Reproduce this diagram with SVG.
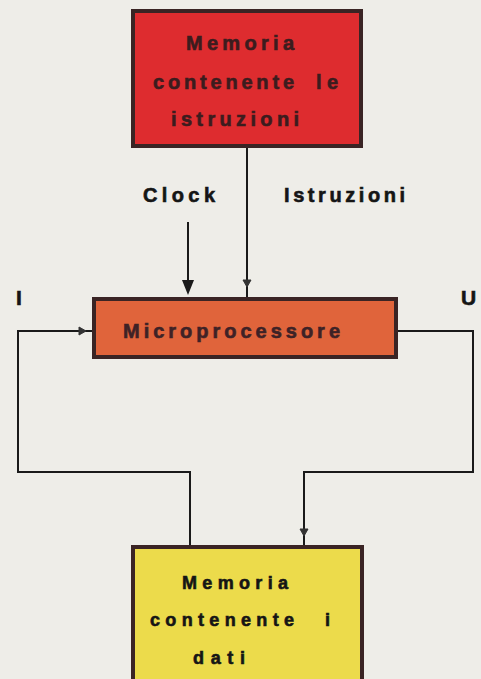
<svg xmlns="http://www.w3.org/2000/svg" width="481" height="679" viewBox="0 0 481 679">
<defs>
<style>
.t{font-family:"Liberation Sans",Arial,sans-serif;font-weight:bold;font-size:20px;fill:#151515;stroke:#151515;stroke-width:0.6}
.r{fill:#3c1c1e;stroke:#3c1c1e}
.o{fill:#3e2226;stroke:#3e2226}
.box{stroke:#3a2424;stroke-width:4}
.ln{fill:none;stroke:#1a1a1a;stroke-width:2}
.ah{fill:#333;stroke:#333;stroke-width:1}
</style>
</defs>
<rect width="481" height="679" fill="#eeede8"/>
<g id="connectors">
<line class="ln" x1="247" y1="148" x2="247" y2="297"/>
<path class="ah" d="M243,280 L247,287 L251,280 z"/>
<line class="ln" x1="188" y1="222" x2="188" y2="282"/>
<path d="M182,280 L188,295 L194,280 z" fill="#1a1a1a"/>
<path class="ln" d="M190,546 V472 H18 V331 H93"/>
<path class="ah" d="M79,327 L86,331 L79,335 z"/>
<path class="ln" d="M397,331 H473 V472 H304 V546"/>
<path class="ah" d="M300,529 L304,536 L308,529 z"/>
</g>
<g id="mem-istruzioni">
<rect class="box" x="133" y="11" width="228" height="135" fill="#de2c2f"/>
<text class="t r" x="186" y="50" textLength="108" lengthAdjust="spacing">Memoria</text>
<text class="t r" x="153" y="89"><tspan textLength="141" lengthAdjust="spacing">contenente</tspan><tspan x="316" textLength="22" lengthAdjust="spacing">le</tspan></text>
<text class="t r" x="171" y="126" textLength="128" lengthAdjust="spacing">istruzioni</text>
</g>
<g id="labels">
<text class="t" x="143" y="202" textLength="72" lengthAdjust="spacing">Clock</text>
<text class="t" x="284" y="202" textLength="121" lengthAdjust="spacing">Istruzioni</text>
<text class="t" x="16" y="305" style="font-size:21px">I</text>
<text class="t" x="461" y="305" style="font-size:21px">U</text>
</g>
<g id="microprocessore">
<rect class="box" x="94" y="299" width="302" height="58" fill="#e0643b"/>
<text class="t o" x="123" y="338" textLength="217" lengthAdjust="spacing">Microprocessore</text>
</g>
<g id="mem-dati">
<rect class="box" x="133" y="547" width="229" height="140" fill="#ecdb4b"/>
<text class="t" x="182" y="589" textLength="106" lengthAdjust="spacing" style="font-size:18px">Memoria</text>
<text class="t" x="150" y="626" style="font-size:18px"><tspan textLength="144" lengthAdjust="spacing">contenente</tspan><tspan x="325">i</tspan></text>
<text class="t" x="193" y="664" textLength="52" lengthAdjust="spacing" style="font-size:18px">dati</text>
</g>
</svg>
